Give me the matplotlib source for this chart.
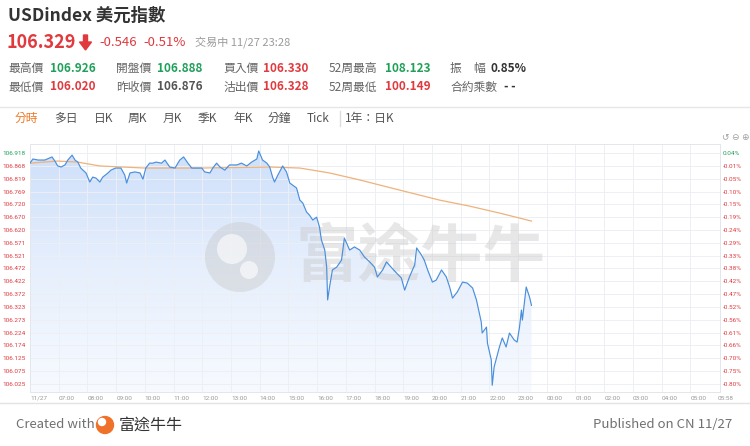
import numpy as np
import matplotlib
matplotlib.use("Agg")
import matplotlib.pyplot as plt
from matplotlib.colors import LinearSegmentedColormap
from matplotlib.patches import Polygon, Circle
from matplotlib.transforms import IdentityTransform

plt.rcParams['font.family'] = ['Noto Sans CJK TC', 'DejaVu Sans']

W, H = 750, 446

# intraday price, minutes after 06:00 on 11/27
minutes = [0, 6, 17, 31, 46, 52, 58, 65, 73, 79, 88, 94, 100, 106, 117, 125, 131, 138, 146, 152,
           163, 169, 179, 190, 198, 202, 209, 219, 230, 236, 242, 250, 257, 263, 275, 282, 292, 303,
           313, 321, 330, 338, 349, 359, 365, 376, 382, 390, 397, 407, 417, 432, 442, 453, 463, 474,
           478, 486, 495, 501, 507, 511, 518, 528, 536, 543, 557, 564, 570, 578, 584, 591, 599, 605,
           609, 616, 620, 622, 626, 632, 641, 651, 657, 668, 678, 689, 699, 710, 720, 726, 737, 745,
           756, 766, 776, 783, 793, 804, 808, 818, 824, 831, 841, 849, 860, 870, 877, 883, 893, 904,
           914, 925, 933, 943, 945, 954, 956, 964, 966, 970, 981, 987, 995, 1002, 1012, 1018, 1023,
           1027, 1029, 1037, 1044, 1048]
price = [106.879, 106.895, 106.891, 106.891, 106.903, 106.887, 106.868, 106.864, 106.872, 106.891,
         106.910, 106.891, 106.883, 106.860, 106.841, 106.806, 106.825, 106.821, 106.806, 106.825,
         106.841, 106.852, 106.860, 106.860, 106.833, 106.802, 106.841, 106.845, 106.841, 106.817,
         106.860, 106.879, 106.879, 106.883, 106.879, 106.891, 106.864, 106.860, 106.891, 106.903,
         106.879, 106.860, 106.860, 106.860, 106.845, 106.841, 106.860, 106.879, 106.864, 106.852,
         106.872, 106.872, 106.879, 106.868, 106.883, 106.895, 106.926, 106.891, 106.879, 106.864,
         106.825, 106.806, 106.833, 106.868, 106.845, 106.802, 106.783, 106.736, 106.725, 106.690,
         106.678, 106.659, 106.670, 106.632, 106.582, 106.543, 106.477, 106.350, 106.400, 106.466,
         106.477, 106.504, 106.589, 106.543, 106.555, 106.543, 106.516, 106.497, 106.477, 106.439,
         106.466, 106.497, 106.474, 106.454, 106.435, 106.388, 106.439, 106.486, 106.551, 106.524,
         106.504, 106.466, 106.419, 106.427, 106.466, 106.439, 106.400, 106.357, 106.381, 106.419,
         106.415, 106.396, 106.350, 106.265, 106.222, 106.245, 106.183, 106.118, 106.020, 106.091,
         106.168, 106.203, 106.168, 106.222, 106.195, 106.187, 106.245, 106.311, 106.272, 106.400,
         106.361, 106.329]

# average price line
avg_minutes = [0, 58, 100, 146, 240, 355, 501, 564, 626, 689, 772, 856, 918, 981, 1048]
avg_price = [106.879, 106.887, 106.883, 106.868, 106.860, 106.860, 106.864, 106.860, 106.841,
             106.814, 106.775, 106.736, 106.713, 106.686, 106.655]

prev_close = 106.876
y_ticks = [106.918, 106.868, 106.819, 106.769, 106.720, 106.670, 106.620, 106.571, 106.521,
           106.472, 106.422, 106.372, 106.323, 106.273, 106.224, 106.174, 106.125, 106.075, 106.025]
pct_labels = ['0.04%', '-0.01%', '-0.05%', '-0.10%', '-0.15%', '-0.19%', '-0.24%', '-0.29%',
              '-0.33%', '-0.38%', '-0.42%', '-0.47%', '-0.52%', '-0.56%', '-0.61%', '-0.66%',
              '-0.70%', '-0.75%', '-0.80%']
x_ticks = list(range(0, 1440, 60)) + [1438]
x_labels = ['11/27'] + ['%02d:00' % h for h in list(range(7, 24)) + list(range(0, 6))] + ['05:58']

RED = '#e0393e'
GREEN = '#1fa058'
GREY = '#666666'
DARK = '#333333'
TICKFONT = ['Roboto', 'DejaVu Sans']


def fx(x):
    return x / W


def fy(y):
    return 1 - y / H


fig = plt.figure(figsize=(7.5, 4.46), dpi=100)
fig.patch.set_facecolor('white')

# ---- header ----
fig.text(fx(8), fy(16), 'USDindex 美元指數', fontsize=12.5, fontweight='bold', color=DARK, va='center')
fig.text(fx(7), fy(42), '106.329', fontsize=13, fontweight='bold', color=RED, va='center')
arrow = [(83.5, 35), (87.5, 35), (87.5, 42), (91.5, 42), (85.5, 50), (79.5, 42), (83.5, 42)]
fig.patches.append(Polygon([(x, H - y) for x, y in arrow], closed=True, color=RED,
                           transform=IdentityTransform(), figure=fig))
fig.text(fx(99), fy(42.5), '-0.546', fontsize=9.5, color=RED, va='center')
fig.text(fx(143), fy(42.5), '-0.51%', fontsize=9.5, color=RED, va='center')
fig.text(fx(195), fy(42.5), '交易中 11/27 23:28', fontsize=8, color='#9a9a9a', va='center')

rows = [
    [(8, '最高價', GREY, 'normal'), (50, '106.926', GREEN, 'bold'),
     (116, '開盤價', GREY, 'normal'), (157, '106.888', GREEN, 'bold'),
     (223, '買入價', GREY, 'normal'), (263, '106.330', RED, 'bold'),
     (329, '52周最高', GREY, 'normal'), (385, '108.123', GREEN, 'bold'),
     (450, '振', GREY, 'normal'), (473, '幅', GREY, 'normal'), (491, '0.85%', DARK, 'bold')],
    [(8, '最低價', GREY, 'normal'), (50, '106.020', RED, 'bold'),
     (116, '昨收價', GREY, 'normal'), (157, '106.876', '#555555', 'bold'),
     (223, '沽出價', GREY, 'normal'), (263, '106.328', RED, 'bold'),
     (329, '52周最低', GREY, 'normal'), (385, '100.149', RED, 'bold'),
     (450, '合約乘數', GREY, 'normal'), (504, '- -', DARK, 'bold')],
]
for ry, row in zip([68.5, 87], rows):
    for x, s, c, w in row:
        fig.text(fx(x), fy(ry), s, fontsize=8.5, color=c, fontweight=w, va='center')

fig.lines.append(plt.Line2D([0, 1], [fy(107), fy(107)], color='#e6e6e6', lw=1, transform=fig.transFigure))

tabs = [(15, '分時'), (54, '多日'), (94, '日K'), (128, '周K'), (163, '月K'), (198, '季K'),
        (233, '年K'), (268, '分鐘'), (307, 'Tick'), (345, '1年：日K')]
for i, (x, s) in enumerate(tabs):
    fig.text(fx(x), fy(118.5), s, fontsize=8.5, color='#f07a28' if i == 0 else '#555555', va='center')
fig.lines.append(plt.Line2D([fx(340), fx(340)], [fy(111), fy(126)], color='#dddddd', lw=1,
                            transform=fig.transFigure))

for x, s in [(725, '↺'), (735, '⊖'), (745, '⊕')]:
    fig.text(fx(x), fy(137), s, fontsize=6.5, color='#a0a0a0', va='center', ha='center',
             family='DejaVu Sans')

# ---- chart ----
ax = fig.add_axes([fx(30), fy(392), 690 / W, 248 / H])
ylo, yhi = 105.994, 106.953
xmax = 1442

for t in range(0, 1440, 60):
    ax.axvline(t, color='#eceff4', lw=0.7, zorder=1.5)
for v in y_ticks:
    ax.axhline(v, color='#eceff4', lw=0.7, zorder=1.5)

poly = ax.fill_between(minutes, price, ylo, color='none', lw=0)
grad = np.linspace(1, 0, 256).reshape(-1, 1)
cmap = LinearSegmentedColormap.from_list('fill', ['#f7faff', '#e6effd', '#cddffa'])
im = ax.imshow(grad, cmap=cmap, aspect='auto', extent=[0, xmax, ylo, yhi], origin='upper', zorder=1)
im.set_clip_path(poly.get_paths()[0], transform=ax.transData)

ax.plot(minutes, price, color='#4a8fdc', lw=0.85, zorder=4)
ax.plot(avg_minutes, avg_price, color='#efb27a', lw=0.9, zorder=3.5)

# watermark
ax.text(fx(420), fy(258), '富途牛牛', transform=fig.transFigure, fontsize=45, fontweight='bold',
        color='#c8c8c8', alpha=0.42, ha='center', va='center', zorder=2)
ax.add_patch(Circle((240, H - 257), 35, transform=IdentityTransform(), color='#c8c8c8', alpha=0.42,
                    zorder=2, lw=0))
ax.add_patch(Circle((232, H - 249), 15, transform=IdentityTransform(), color='white', alpha=0.6,
                    zorder=2.1, lw=0))
ax.add_patch(Circle((249, H - 270), 9, transform=IdentityTransform(), color='white', alpha=0.6,
                    zorder=2.1, lw=0))

ax.set_xlim(0, xmax)
ax.set_ylim(ylo, yhi)
ax.set_yticks(y_ticks)
ax.set_yticklabels(['%.3f' % v for v in y_ticks])
ax.set_xticks(x_ticks)
ax.set_xticklabels(x_labels, ha='left', va='baseline')
ax.tick_params(axis='both', length=0, labelsize=4.6, labelcolor='#999999')
ax.tick_params(axis='y', pad=3)
ax.tick_params(axis='x', pad=5.5)
for lab, v in zip(ax.get_yticklabels(), y_ticks):
    lab.set_color(GREEN if v > prev_close else RED)
    lab.set_family(TICKFONT)
for lab in ax.get_xticklabels():
    lab.set_family(TICKFONT)
for sp in ax.spines.values():
    sp.set_color('#e3e6eb')
    sp.set_linewidth(0.7)

ax2 = ax.twinx()
ax2.set_ylim(ylo, yhi)
ax2.set_yticks(y_ticks)
ax2.set_yticklabels(pct_labels)
ax2.tick_params(axis='y', length=0, labelsize=4.6, pad=2)
for lab, s in zip(ax2.get_yticklabels(), pct_labels):
    lab.set_color(RED if s.startswith('-') else GREEN)
    lab.set_family(TICKFONT)
for sp in ax2.spines.values():
    sp.set_visible(False)

# ---- footer ----
fig.lines.append(plt.Line2D([0, 1], [fy(403), fy(403)], color='#e3e3e3', lw=1, transform=fig.transFigure))
fig.text(fx(16), fy(425), 'Created with', fontsize=9.5, color='#707070', va='center')
fig.patches.append(Circle((105, H - 425), 8.5, transform=IdentityTransform(), color='#f0712a',
                          figure=fig))
fig.patches.append(Circle((102, H - 422), 3.5, transform=IdentityTransform(), color='white',
                          figure=fig))
fig.text(fx(119), fy(425), '富途牛牛', fontsize=11.5, color='#333333', va='center')
fig.text(fx(732), fy(425), 'Published on CN 11/27', fontsize=9.5, color='#707070', va='center', ha='right')

fig.savefig('out.png', dpi=100, facecolor='white')
